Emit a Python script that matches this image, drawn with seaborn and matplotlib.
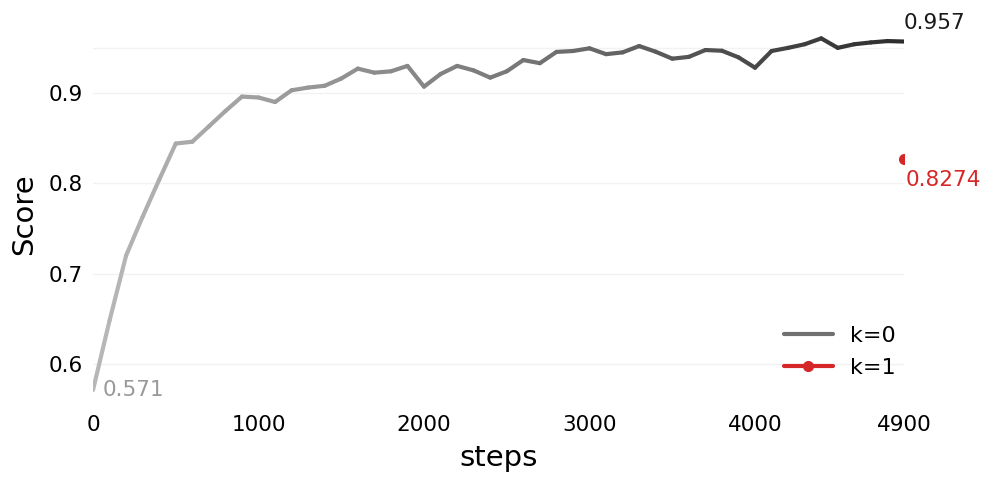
import numpy as np
import pandas as pd
import matplotlib
matplotlib.use("Agg")
import matplotlib.pyplot as plt
import seaborn as sns
from matplotlib.collections import LineCollection
from matplotlib.colors import LinearSegmentedColormap
from matplotlib.lines import Line2D

# ---- data ----
steps = list(range(0, 5000, 100))
score_k0 = [0.571, 0.648, 0.720, 0.763, 0.804, 0.844, 0.846, 0.863, 0.880, 0.896,
            0.895, 0.890, 0.903, 0.906, 0.908, 0.916, 0.927, 0.9225, 0.924, 0.930,
            0.907, 0.921, 0.930, 0.925, 0.917, 0.924, 0.9365, 0.933, 0.9455, 0.9465,
            0.9495, 0.943, 0.945, 0.952, 0.9457, 0.938, 0.940, 0.9476, 0.9468, 0.9395,
            0.928, 0.9465, 0.950, 0.954, 0.9605, 0.950, 0.954, 0.956, 0.9575, 0.957]
steps_k1 = [4900]
score_k1 = [0.8274]
series_names = ["k=0", "k=1"]
xtick_values = [0, 1000, 2000, 3000, 4000, 4900]
ytick_values = [0.6, 0.7, 0.8, 0.9]

df0 = pd.DataFrame({"steps": steps, "Score": score_k0, "k": series_names[0]})
df1 = pd.DataFrame({"steps": steps_k1, "Score": score_k1, "k": series_names[1]})

sns.set_style("white")
plt.rcParams["font.family"] = ["DejaVu Sans"]
plt.rcParams["text.color"] = "black"
plt.rcParams["axes.labelcolor"] = "black"
plt.rcParams["xtick.color"] = "black"
plt.rcParams["ytick.color"] = "black"

fig = plt.figure(figsize=(9.97, 4.87), dpi=100)
ax = fig.add_axes([0.0933, 0.19, 0.8134, 0.7414])

red = "#d62728"

# k=0 via seaborn (hidden, replaced by gradient collection)
sns.lineplot(data=df0, x="steps", y="Score", ax=ax, color="#707070", lw=3, legend=False)
ax.lines[-1].set_visible(False)

x = np.array(df0["steps"], dtype=float)
y = np.array(df0["Score"], dtype=float)
pts = np.column_stack([x, y]).reshape(-1, 1, 2)
segs = np.concatenate([pts[:-1], pts[1:]], axis=1)
cmap = LinearSegmentedColormap.from_list("g", ["#b8b8b8", "#7a7a7a", "#2c2c2c"])
lc = LineCollection(segs, cmap=cmap, linewidth=3.0, capstyle="round", joinstyle="round")
lc.set_array((x[:-1] + x[1:]) / 2)
lc.set_clim(0, 4900)
ax.add_collection(lc)

# k=1 point
sns.lineplot(data=df1, x="steps", y="Score", ax=ax, color=red, marker="o",
             markersize=8, markeredgewidth=0, lw=3, legend=False)

ax.set_xlim(0, 4900)
ax.set_ylim(0.566, 0.966)
ax.set_xticks(xtick_values)
ax.set_xticklabels([str(v) for v in xtick_values])
ax.set_yticks(ytick_values)
ax.set_yticklabels([f"{v:g}" for v in ytick_values])
ax.set_yticks([0.95], minor=True)
ax.grid(axis="y", which="both", color="#f2f2f2", lw=1)
ax.grid(axis="x", visible=False)
for s in ax.spines.values():
    s.set_visible(False)
ax.tick_params(axis="x", length=0, pad=15, labelsize=15.5, labelcolor="black")
ax.tick_params(axis="y", length=0, pad=7, labelsize=15.5, labelcolor="black")
ax.tick_params(axis="y", which="minor", length=0)
ax.set_xlabel("steps", fontsize=21, labelpad=6, color="black")
ax.set_ylabel("Score", fontsize=21, labelpad=8, color="black")

# end labels
ax.annotate(f"{score_k0[-1]:.3f}", xy=(steps[-1], score_k0[-1]), xytext=(0, 9),
            textcoords="offset points", ha="left", va="baseline", fontsize=15.5, color="#1a1a1a",
            annotation_clip=False)
ax.annotate(f"{score_k1[0]:.4f}", xy=(steps_k1[0], score_k1[0]), xytext=(1, -8),
            textcoords="offset points", ha="left", va="top", fontsize=15.5, color=red,
            annotation_clip=False)
ax.annotate(f"{score_k0[0]:.3f}", xy=(steps[0], score_k0[0]), xytext=(7, 0),
            textcoords="offset points", ha="left", va="center", fontsize=15.5, color="#999999",
            annotation_clip=False)

handles = [Line2D([], [], color="#707070", lw=3),
           Line2D([], [], color=red, lw=3, marker="o", markersize=7)]
ax.legend(handles, series_names, loc="lower right", bbox_to_anchor=(1.014, -0.01),
          frameon=False, fontsize=16, handlelength=2.2, handletextpad=0.75, labelspacing=0.55)

fig.savefig("out.png", dpi=100)
